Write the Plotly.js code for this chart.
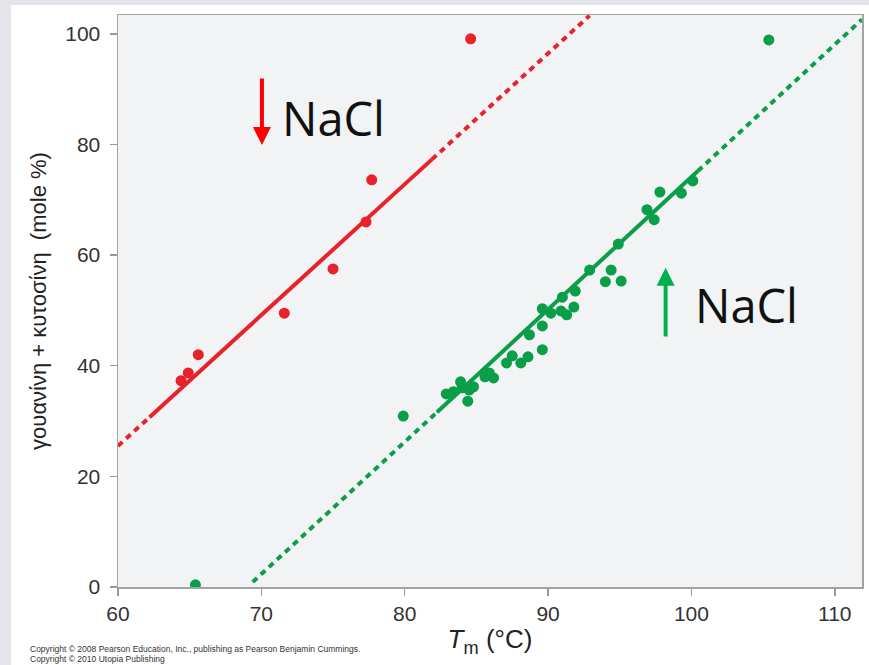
<!DOCTYPE html>
<html>
<head>
<meta charset="utf-8">
<script src="https://cdn.plot.ly/plotly-3.0.1.min.js"></script>
<style>
  html, body { margin:0; padding:0; width:869px; height:665px; overflow:hidden; background:#e3e5ea; }
  #chart { position:absolute; left:11px; top:5px; width:858px; height:660px; background:#ffffff; }
</style>
</head>
<body>
<div id="chart"></div>
<script>
// Red series (observed points) - Tm (°C) vs G+C (mole %)
const redTm = [84.6, 77.7, 77.3, 75.0, 71.6, 65.6, 64.9, 64.4];
const redGC = [99.1, 73.6, 66.0, 57.5, 49.5, 42.0, 38.7, 37.3];
// Green series
const greenTm = [65.4, 79.9, 82.9, 83.4, 83.9, 84.0, 84.5, 84.4, 84.8, 85.6, 85.9, 86.2,
                 87.1, 87.5, 88.1, 88.6, 89.6, 88.7, 89.6, 89.6, 90.2, 90.9, 91.3, 91.8,
                 91.0, 91.9, 92.9, 94.4, 94.0, 95.1, 94.9, 96.9, 97.8, 97.4, 99.3, 100.1, 105.4];
const greenGC = [0.4, 30.9, 34.9, 35.3, 37.1, 36.0, 35.6, 33.6, 36.2, 38.0, 38.7, 37.8,
                 40.5, 41.8, 40.5, 41.6, 42.9, 45.6, 47.2, 50.3, 49.5, 49.9, 49.2, 50.6,
                 52.4, 53.5, 57.3, 57.3, 55.2, 55.3, 62.0, 68.2, 71.4, 66.4, 71.2, 73.4, 98.9];
// Fit lines: [dotted start, solid start, solid end, dotted end]
const redFitTm = [60.0, 62.2, 81.9, 92.9];
const redFitGC = [25.5, 30.7, 77.3, 103.3];
const greenFitTm = [69.4, 82.25, 100.45, 111.9];
const greenFitGC = [0.9, 31.6, 75.2, 102.6];
// Axis ticks
const xTicks = [60, 70, 80, 90, 100, 110];
const yTicks = [0, 20, 40, 60, 80, 100];

const RED = '#e8212a';
const GREEN = '#0a9e48';
const dotDash = '6px,5px';

const traces = [
  {x: redFitTm.slice(0,2), y: redFitGC.slice(0,2), mode:'lines', line:{color:RED, width:4, dash:dotDash}, hoverinfo:'skip'},
  {x: redFitTm.slice(1,3), y: redFitGC.slice(1,3), mode:'lines', line:{color:RED, width:4}, hoverinfo:'skip'},
  {x: redFitTm.slice(2,4), y: redFitGC.slice(2,4), mode:'lines', line:{color:RED, width:4, dash:dotDash}, hoverinfo:'skip'},
  {x: greenFitTm.slice(0,2), y: greenFitGC.slice(0,2), mode:'lines', line:{color:GREEN, width:4, dash:dotDash}, hoverinfo:'skip'},
  {x: greenFitTm.slice(1,3), y: greenFitGC.slice(1,3), mode:'lines', line:{color:GREEN, width:4}, hoverinfo:'skip'},
  {x: greenFitTm.slice(2,4), y: greenFitGC.slice(2,4), mode:'lines', line:{color:GREEN, width:4, dash:dotDash}, hoverinfo:'skip'},
  {x: redTm, y: redGC, mode:'markers', marker:{color:RED, size:11}, name:'red'},
  {x: greenTm, y: greenGC, mode:'markers', marker:{color:GREEN, size:11}, name:'green'}
];

const tickFont = {family:'Liberation Sans, Arial, sans-serif', size:21, color:'#333333'};

const layout = {
  width: 858, height: 660,
  margin: {l:107, r:7, t:10, b:78},
  paper_bgcolor: '#ffffff',
  plot_bgcolor: '#f2f3f5',
  showlegend: false,
  xaxis: {
    range: [60, 111.9], tickvals: xTicks, ticks:'outside', ticklen:7, tickcolor:'#999999', tickwidth:1.5,
    showgrid:false, zeroline:false, showline:true, mirror:true, linecolor:'#a3a3a3', linewidth:1.5,
    tickfont: tickFont,
    title: {text:'<i>T</i><sub>m</sub> (°C)', font:{family:'Liberation Sans, Arial, sans-serif', size:26, color:'#222222'}, standoff:6}
  },
  yaxis: {
    range: [0, 103.4], tickvals: yTicks, ticks:'outside', ticklen:7, tickcolor:'#999999', tickwidth:1.5,
    showgrid:false, zeroline:false, showline:true, mirror:true, linecolor:'#a3a3a3', linewidth:1.5,
    tickfont: tickFont, ticklabelstandoff: 5,
    title: {text:'γουανίνη + κυτοσίνη  (mole %)', font:{family:'Liberation Sans, Arial, sans-serif', size:22, color:'#222222'}, standoff:12}
  },
  annotations: [
    // red arrow (down)
    {x:70.04, y:79.9, ax:70.04, ay:92.2, xref:'x', yref:'y', axref:'x', ayref:'y', text:'', showarrow:true,
     arrowhead:2, arrowsize:0.9, arrowwidth:4, arrowcolor:'#ff0000'},
    {x:71.3, y:84.8, xref:'x', yref:'y', text:'NaCl', showarrow:false, xanchor:'left', yanchor:'middle',
     font:{family:'Open Sans, sans-serif', size:47, color:'#111111'}},
    // green arrow (up)
    {x:98.2, y:57.7, ax:98.2, ay:45.0, xref:'x', yref:'y', axref:'x', ayref:'y', text:'', showarrow:true,
     arrowhead:2, arrowsize:0.9, arrowwidth:4, arrowcolor:'#00b050'},
    {x:100.1, y:51.0, xref:'x', yref:'y', text:'NaCl', showarrow:false, xanchor:'left', yanchor:'middle',
     font:{family:'Open Sans, sans-serif', size:47, color:'#111111'}},
    // copyright (paper coords relative to plot area: bottom at y=0, left at x=0)
    {x:-0.121, y:-0.108, xref:'paper', yref:'paper', xanchor:'left', yanchor:'middle', showarrow:false,
     text:'Copyright © 2008 Pearson Education, Inc., publishing as Pearson Benjamin Cummings.',
     font:{family:'Liberation Sans Narrow, Liberation Sans, Arial, sans-serif', size:8.5, color:'#333333'}},
    {x:-0.121, y:-0.126, xref:'paper', yref:'paper', xanchor:'left', yanchor:'middle', showarrow:false,
     text:'Copyright © 2010 Utopia Publishing',
     font:{family:'Liberation Sans Narrow, Liberation Sans, Arial, sans-serif', size:8.5, color:'#333333'}}
  ]
};

Plotly.newPlot('chart', traces, layout, {displayModeBar:false, staticPlot:true});
</script>
</body>
</html>
